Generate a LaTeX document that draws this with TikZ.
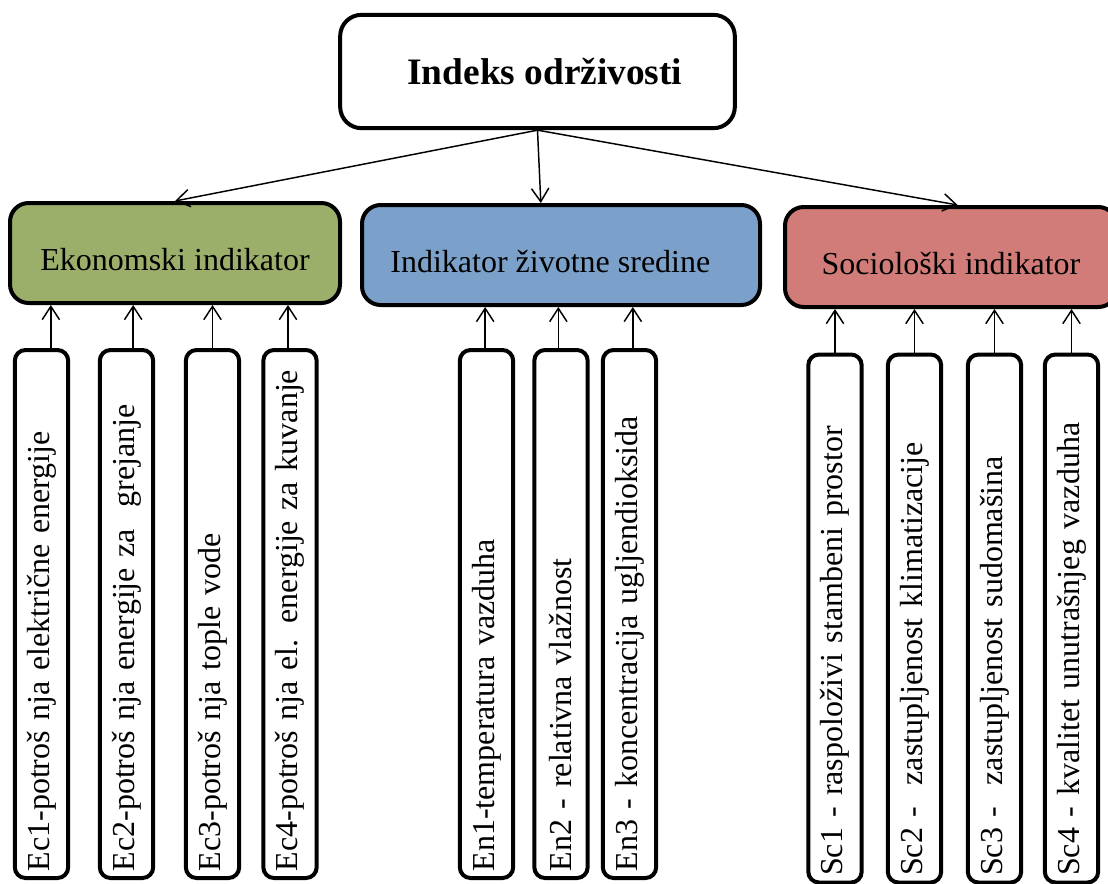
\documentclass[tikz,border=0pt]{standalone}
\usepackage{fontspec}
\setmainfont{Liberation Serif}
\usetikzlibrary{arrows.meta}

\definecolor{ekozelena}{RGB}{155,175,107}
\definecolor{okrplava}{RGB}{123,161,203}
\definecolor{soccrvena}{RGB}{209,124,121}

\begin{document}
\begin{tikzpicture}[x=0.75pt,y=-0.75pt,
	grupa/.style={draw,line width=3pt,rounded corners=14pt,minimum width=#1,minimum height=75pt,
		font=\fontsize{24}{28}\selectfont,text height=26pt},
	stavka/.style={draw,line width=3pt,rounded corners=8pt,rotate=90,minimum height=40pt,
		inner xsep=5pt,text width=386pt,align=left,font=\fontsize{24}{28}\selectfont},
	strelica/.style={line width=1.1pt,-{Straight Barb[length=10pt,width=13pt]}}]
			\useasboundingbox (0,0) rectangle (1108,883);
			% vrh
			\node[draw,line width=3pt,rounded corners=16pt,minimum width=296pt,minimum height=85pt,
				font=\fontsize{28}{32}\selectfont\bfseries] (top) at (537.5,71.5) {\hspace*{11pt}Indeks održivosti};
			% grupe
			\node[grupa=247.5pt,fill=ekozelena] (eko) at (175,253) {Ekonomski indikator};
			\node[grupa=298.5pt,fill=okrplava] (okr) at (561,255) {Indikator životne sredine\hspace*{16pt}};
			\node[grupa=249pt,fill=soccrvena] (soc) at (951,257) {Sociološki indikator};
			% indikatori
			\node[stavka] (ec1) at (41.5,614) {Ec1-potroš nja električne energije};
			\node[stavka] (ec2) at (126.5,614) {Ec2-potroš nja energije za\ \ grejanje};
			\node[stavka] (ec3) at (212.5,614) {Ec3-potroš nja tople vode};
			\node[stavka] (ec4) at (290,614) {Ec4-potroš nja el. energije za kuvanje};
			\node[stavka] (en1) at (486.5,614) {En1-temperatura vazduha};
			\node[stavka] (en2) at (561,614) {En2 - relativna vlažnost};
			\node[stavka] (en3) at (629.5,614) {En3 - koncentracija ugljendioksida};
			\node[stavka] (sc1) at (835,618.5) {Sc1 - raspoloživi stambeni prostor};
			\node[stavka] (sc2) at (914.5,618.5) {Sc2 -\ \ zastupljenost klimatizacije};
			\node[stavka] (sc3) at (994.5,618.5) {Sc3 -\ \ zastupljenost sudomašina};
			\node[stavka] (sc4) at (1071.5,618.5) {Sc4 - kvalitet unutrašnjeg vazduha};
			% strelice
			\draw[strelica](top.south)--(eko.north);
			\draw[strelica](top.south)--([xshift=2.5pt]top.south |- okr.north);
			\draw[strelica](top.south)--([xshift=5pt]soc.north);
			\draw[strelica]([xshift=7pt]ec1.east)--([xshift=7pt]ec1.east |- eko.south);
			\draw[strelica]([xshift=5pt]ec2.east)--([xshift=5pt]ec2.east |- eko.south);
			\draw[strelica](ec3.east)--(ec3.east |- eko.south);
			\draw[strelica]([xshift=-1.5pt]ec4.east)--([xshift=-1.5pt]ec4.east |- eko.south);
			\draw[strelica]([xshift=-1pt]en1.east)--([xshift=-1pt]en1.east |- okr.south);
			\draw[strelica]([xshift=-2pt]en2.east)--([xshift=-2pt]en2.east |- okr.south);
			\draw[strelica]([xshift=2.5pt]en3.east)--([xshift=2.5pt]en3.east |- okr.south);
			\draw[strelica](sc1.east)--(sc1.east |- soc.south);
			\draw[strelica](sc2.east)--(sc2.east |- soc.south);
			\draw[strelica](sc3.east)--(sc3.east |- soc.south);
			\draw[strelica](sc4.east)--(sc4.east |- soc.south);
\end{tikzpicture}
\end{document}
